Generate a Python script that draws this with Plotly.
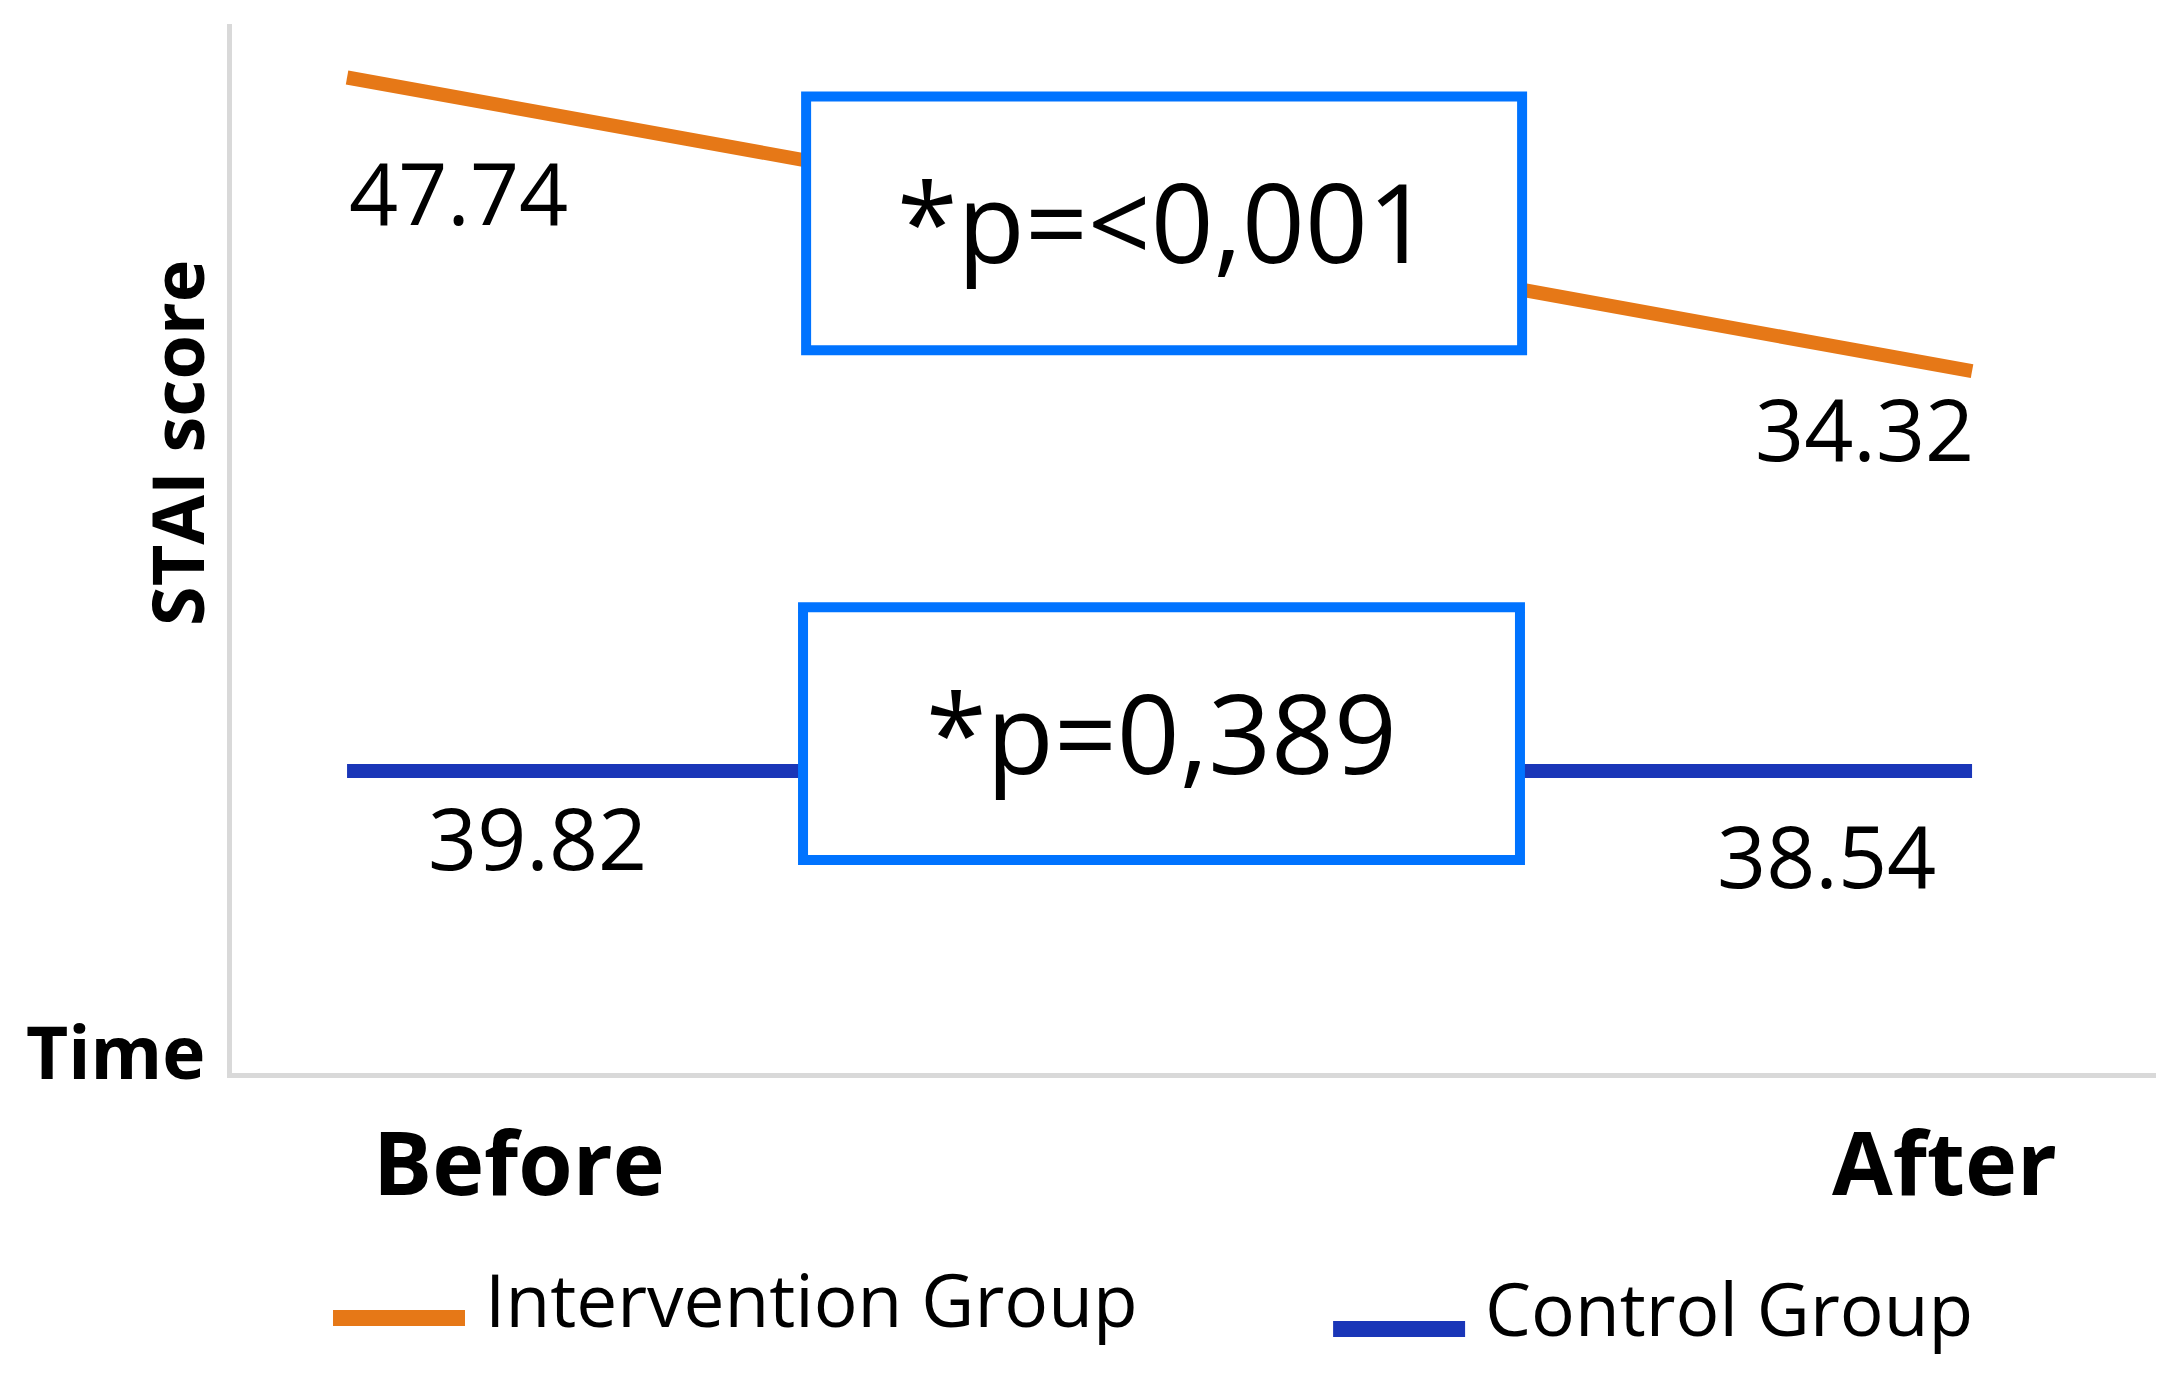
import plotly.graph_objects as go

# ---- data ----
time_labels = ["Before", "After"]
intervention_scores = [47.74, 34.32]      # printed values
control_scores = [39.82, 38.54]           # printed values
# the reference draws the lines schematically; drawn levels (0-100 of axis height)
intervention_drawn = [94.9, 66.9]
control_drawn = [28.8, 28.8]
p_labels = ["*p=<0,001", "*p=0,389"]
series_names = ["Intervention Group", "Control Group"]

ORANGE = "#E67817"
BLUE = "#1A36B8"
BOX = "#0073FF"
GREY = "#D9D9D9"
FONT = "Open Sans"

xpos = [0, 1]

fig = go.Figure()
fig.add_trace(go.Scatter(x=xpos, y=intervention_drawn, mode="lines",
                         line=dict(color=ORANGE, width=14), name=series_names[0],
                         showlegend=False, hoverinfo="skip"))
fig.add_trace(go.Scatter(x=xpos, y=control_drawn, mode="lines",
                         line=dict(color=BLUE, width=14), name=series_names[1],
                         showlegend=False, hoverinfo="skip"))

ann = []
# value labels
ann.append(dict(x=xpos[0], y=intervention_drawn[0], xref="x", yref="y", text=f"{intervention_scores[0]:.2f}",
                xanchor="left", yanchor="middle", yshift=-114, showarrow=False,
                font=dict(family=FONT, size=86, color="black")))
ann.append(dict(x=xpos[1], y=intervention_drawn[1], xref="x", yref="y", text=f"{intervention_scores[1]:.2f}",
                xanchor="right", yanchor="middle", yshift=-56, xshift=4, showarrow=False,
                font=dict(family=FONT, size=86, color="black")))
ann.append(dict(x=xpos[0], y=control_drawn[0], xref="x", yref="y", text=f"{control_scores[0]:.2f}",
                xanchor="left", yanchor="middle", yshift=-66, xshift=79, showarrow=False,
                font=dict(family=FONT, size=86, color="black")))
ann.append(dict(x=xpos[1], y=control_drawn[1], xref="x", yref="y", text=f"{control_scores[1]:.2f}",
                xanchor="right", yanchor="middle", yshift=-84, xshift=-34, showarrow=False,
                font=dict(family=FONT, size=86, color="black")))

# p-value boxes
boxes = [(0.2825, 0.7231, 68.9, 93.1), (0.2806, 0.7218, 20.3, 44.4)]
shapes = []
for (x0, x1, y0, y1), txt in zip(boxes, p_labels):
    shapes.append(dict(type="rect", xref="x", yref="y", x0=x0, x1=x1, y0=y0, y1=y1,
                       fillcolor="white", line=dict(color=BOX, width=10), layer="above"))
    ann.append(dict(x=(x0 + x1) / 2, y=(y0 + y1) / 2, xref="x", yref="y", text=txt,
                    showarrow=False, xanchor="center", yanchor="middle", yshift=3,
                    font=dict(family=FONT, size=110, color="black")))

# category labels
ann.append(dict(x=xpos[0], y=-0.0839, xref="x", yref="paper", text=f"<b>{time_labels[0]}</b>",
                xshift=172, showarrow=False, xanchor="center", yanchor="middle",
                font=dict(family=FONT, size=88, color="black")))
ann.append(dict(x=xpos[1], y=-0.0839, xref="x", yref="paper", text=f"<b>{time_labels[1]}</b>",
                xshift=-28, showarrow=False, xanchor="center", yanchor="middle",
                font=dict(family=FONT, size=88, color="black")))
# axis titles
ann.append(dict(x=-0.0132, y=0.021, xref="paper", yref="paper", text="<b>Time</b>",
                showarrow=False, xanchor="right", yanchor="middle",
                font=dict(family=FONT, size=73, color="black")))
ann.append(dict(x=-0.0291, y=0.6006, xref="paper", yref="paper", text="<b>STAI score</b>",
                showarrow=False, xanchor="center", yanchor="middle", textangle=-90,
                font=dict(family=FONT, size=72, color="black")))

# legend (manual)
legend_items = [(ORANGE, 0.0525, 0.1211, -0.2336, -0.2154, series_names[0]),
                (BLUE, 0.5723, 0.6409, -0.2440, -0.2231, series_names[1])]
for col, x0, x1, ys, yt, name in legend_items:
    shapes.append(dict(type="line", xref="paper", yref="paper", x0=x0, x1=x1, y0=ys, y1=ys,
                       line=dict(color=col, width=16)))
    ann.append(dict(x=x1 + 0.0094, y=yt, xref="paper", yref="paper", text=name,
                    showarrow=False, xanchor="left", yanchor="middle",
                    font=dict(family=FONT, size=73, color="black")))

fig.update_layout(
    width=2178, height=1388,
    margin=dict(l=224, r=30, t=16, b=323),
    paper_bgcolor="white", plot_bgcolor="white",
    showlegend=False,
    xaxis=dict(range=[-0.0708, 1.1132], showgrid=False, zeroline=False, showticklabels=False,
               ticks="", showline=True, linecolor=GREY, linewidth=5, fixedrange=True),
    yaxis=dict(range=[0, 100], showgrid=False, zeroline=False, showticklabels=False,
               ticks="", showline=True, linecolor=GREY, linewidth=5, fixedrange=True),
    shapes=shapes, annotations=ann,
)

fig.write_html("out.html")
